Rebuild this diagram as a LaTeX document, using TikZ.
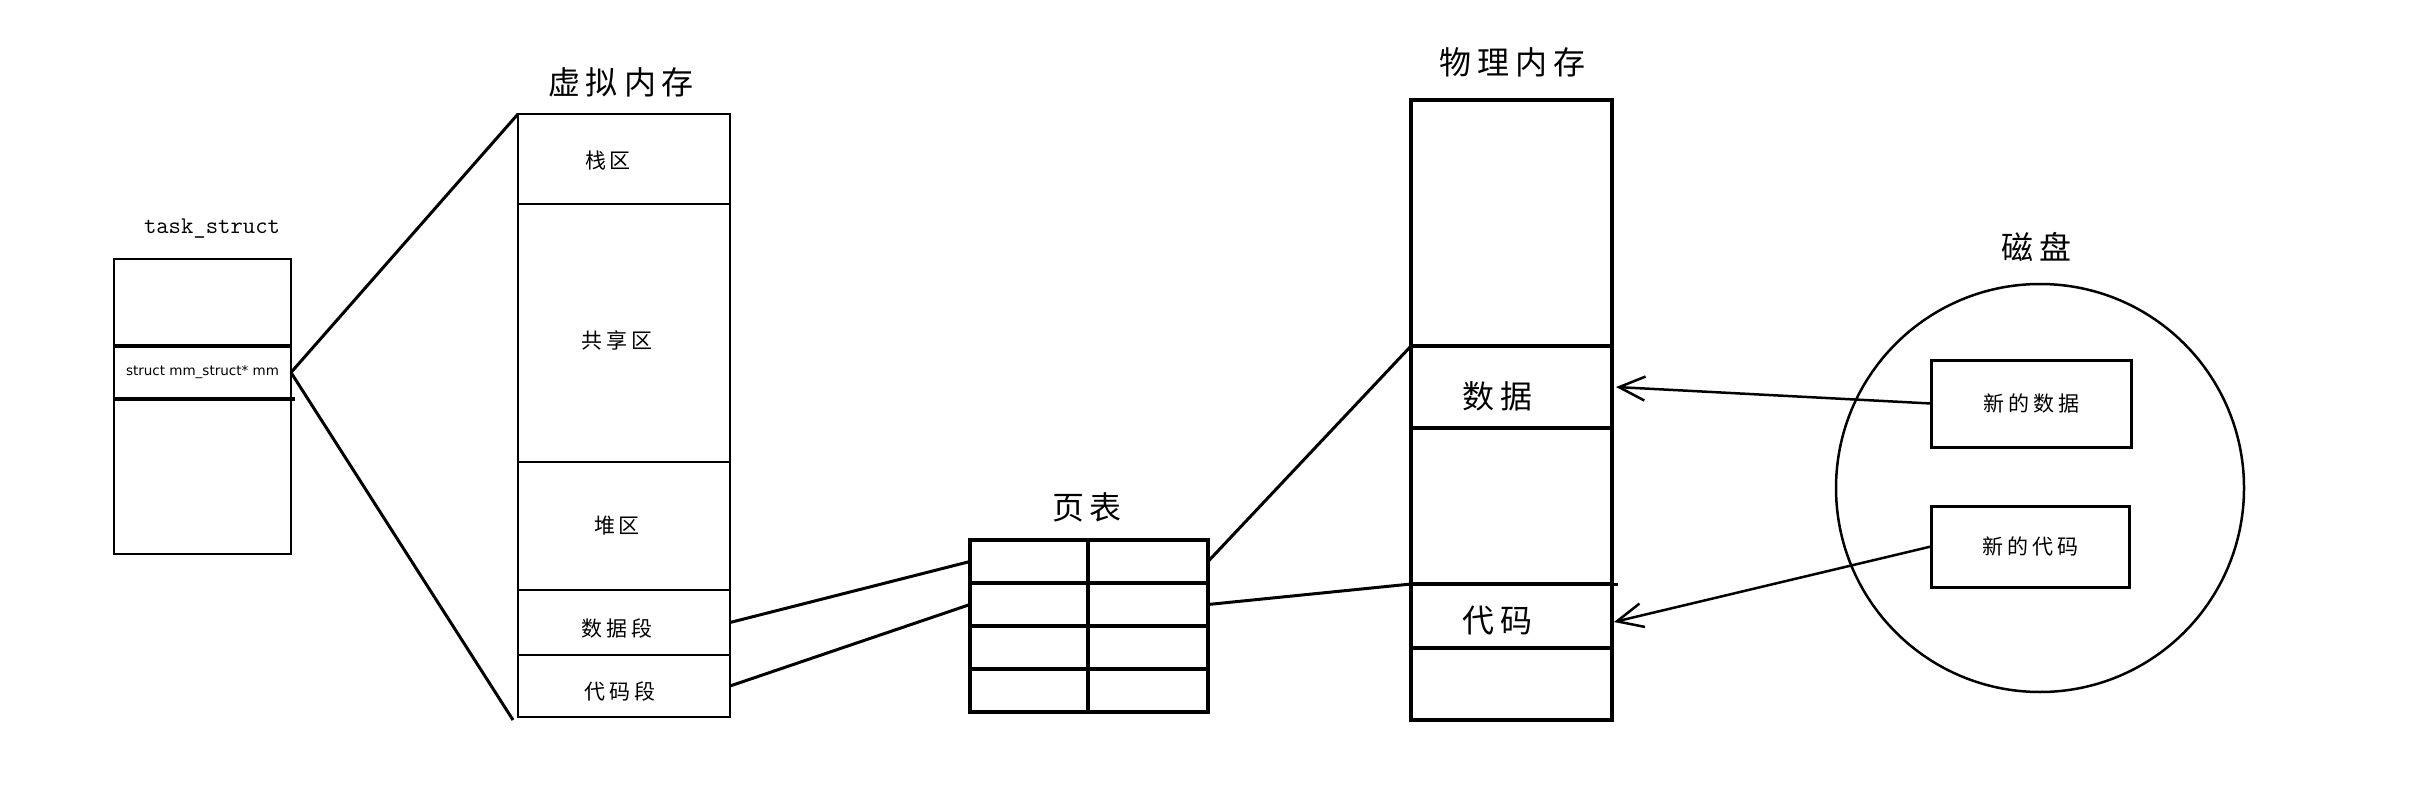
\documentclass[tikz,border=0pt]{standalone}
\usepackage{fontspec}
\newfontfamily\cjk{Noto Sans CJK SC}
\newfontfamily\dv{DejaVu Sans}
\usetikzlibrary{arrows.meta,calc}
\newcommand\Gbig{\hspace{6pt}}
\newcommand\Gsml{\hspace{4pt}}
\begin{document}
\begin{tikzpicture}[x=1pt,y=-1pt,
  cell/.style={draw, rectangle, inner sep=0pt, outer sep=0pt},
  thinln/.style={line width=1.5pt},
  thickln/.style={line width=3.5pt},
  big/.style={font=\cjk\fontsize{32}{36}\selectfont, inner sep=0pt},
  small/.style={font=\cjk\fontsize{21}{25}\selectfont},
  conn/.style={line width=3pt},
  arr/.style={line width=2.5pt, -{Straight Barb[length=26pt,width=24pt,line width=2.5pt]}}
]
\fill[white] (0,0) rectangle (2424,810);
\useasboundingbox (0,0) rectangle (2424,810);

% task_struct
\node[font=\ttfamily\fontsize{24}{28}\selectfont] (tstitle) at (212,229) {task\_struct};
\node[cell, thinln, minimum width=177pt, minimum height=295pt] (ts) at (202.5,406.5) {};
\node[cell, draw=none, minimum width=177pt, minimum height=53pt, font=\dv\fontsize{13.5}{16}\selectfont] (mm) at (202.5,372.5) {struct mm\_struct* mm};
\draw[thickln] (mm.north west) -- (mm.north east);
\draw[thickln] (mm.south west) -- ($(mm.south east)+(4,0)$);

% virtual memory
\node[big] (vmt) at (621,82) {虚\Gbig 拟\Gbig 内\Gbig 存};
\node[cell, thinln, minimum width=212pt, minimum height=90pt] (stack) at (624,159) {};
\node[cell, thinln, minimum width=212pt, minimum height=258pt] (shared) at (624,333) {};
\node[cell, thinln, minimum width=212pt, minimum height=128pt] (heap) at (624,526) {};
\node[cell, thinln, minimum width=212pt, minimum height=65pt] (dataseg) at (624,622.5) {};
\node[cell, thinln, minimum width=212pt, minimum height=62pt] (codeseg) at (624,686) {};
\node[small] (stackl) at (608,161) {栈\Gsml 区};
\node[small] (sharedl) at (617,340) {共\Gsml 享\Gsml 区};
\node[small] (heapl) at (617,526) {堆\Gsml 区};
\node[small] (datasegl) at (617,628) {数\Gsml 据\Gsml 段};
\node[small] (codesegl) at (620,691) {代\Gsml 码\Gsml 段};

\draw[conn] (mm.east) -- (stack.north west);
\draw[conn] (mm.east) -- ($(codeseg.south west)+(-5,3)$);

% page table
\node[big] (ptt) at (1087,507) {页\Gbig 表};
\foreach \r/\y in {1/561.5,2/604.5,3/647.5,4/690.5}{
  \node[cell, thickln, minimum width=118pt, minimum height=43pt] (pt\r1) at (1029,\y) {};
  \node[cell, thickln, minimum width=120pt, minimum height=43pt] (pt\r2) at (1148,\y) {};
}
\draw[conn] (dataseg.east) -- (pt11.west);
\draw[conn] (codeseg.east) -- (pt21.west);

% physical memory
\node[big] (pmt) at (1512,62) {物\Gbig 理\Gbig 内\Gbig 存};
\node[cell, line width=4pt, minimum width=201pt, minimum height=246pt] (ptop) at (1511.5,223) {};
\node[cell, line width=4pt, minimum width=201pt, minimum height=82pt] (pdata) at (1511.5,387) {};
\node[cell, line width=4pt, minimum width=201pt, minimum height=156pt] (pmid) at (1511.5,506) {};
\node[cell, line width=4pt, minimum width=201pt, minimum height=64pt] (pcode) at (1511.5,616) {};
\node[cell, line width=4pt, minimum width=201pt, minimum height=72pt] (pbot) at (1511.5,684) {};
\node[big] (pdl) at (1497,396) {数\Gbig 据};
\node[big] (pcl) at (1497,621) {代\Gbig 码};
\draw[line width=3pt] (pcode.north east) -- ++(6,0);

\draw[conn] (pt12.east) -- (pdata.north west);
\draw[conn] (pt22.east) -- (pcode.north west);

% disk
\node[big] (dt) at (2036,247) {磁\Gbig 盘};
\node[circle, draw, line width=2.5pt, minimum size=408pt, inner sep=0pt] (disk) at (2040,488) {};
\node[cell, line width=3pt, small, minimum width=200pt, minimum height=87pt] (nd) at (2031,403.5) {新\Gsml 的\Gsml 数\Gsml 据};
\node[cell, line width=3pt, small, minimum width=198pt, minimum height=81pt] (nc) at (2030,546.5) {新\Gsml 的\Gsml 代\Gsml 码};

\draw[arr] (nd.west) -- ($(pdata.east)+(4,0)$);
\draw[arr] (nc.west) -- ($(pcode.east)+(2,6)$);
\end{tikzpicture}
\end{document}
